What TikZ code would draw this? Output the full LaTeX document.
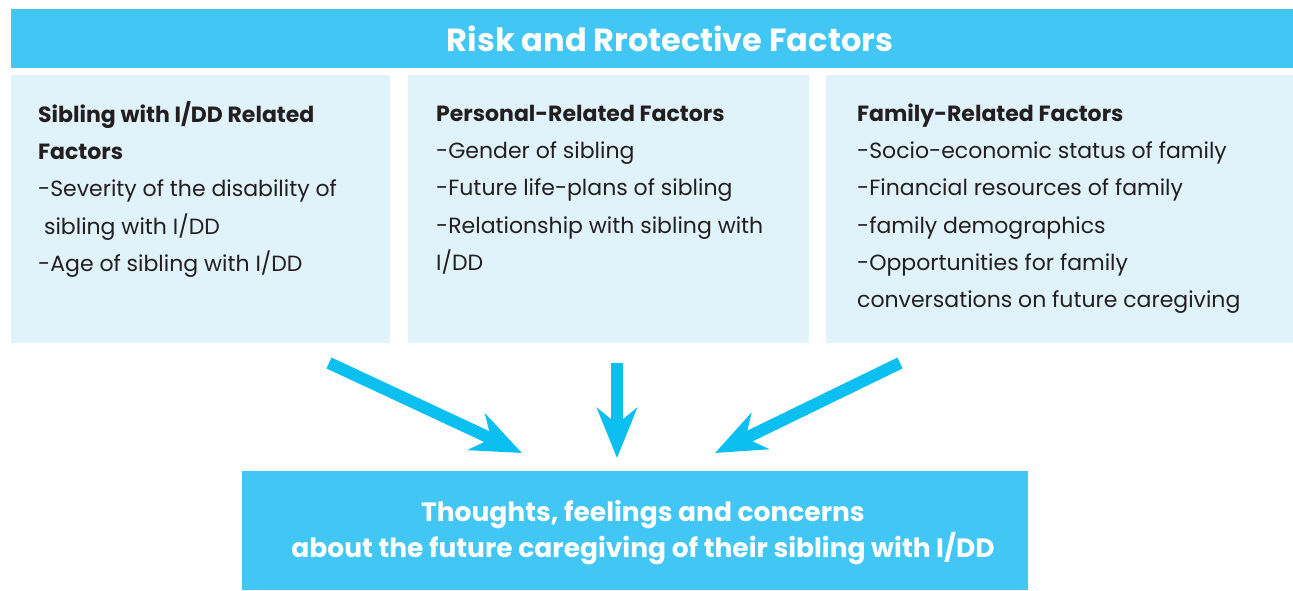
\documentclass[tikz,border=0pt]{standalone}
\usepackage{fontspec}
\setmainfont{Poppins}
\usetikzlibrary{arrows.meta}
\definecolor{banner}{RGB}{66,198,243}
\definecolor{pale}{RGB}{224,242,250}
\definecolor{arrowblue}{RGB}{11,191,240}
\definecolor{ink}{RGB}{35,31,32}
\newcommand{\toprule}{\rule{0pt}{20pt}}
\tikzset{
  box/.style={fill=#1, inner sep=0pt, anchor=north west},
  factors/.style={anchor=north west, inner sep=0pt, align=left, text=ink,
    font=\fontsize{22}{37.3}\selectfont},
  flow/.style={arrowblue, line width=12pt,
    -{Stealth[length=50pt,width=40pt,inset=16pt]}},
}
\begin{document}
\begin{tikzpicture}[x=1pt,y=-1pt]
\useasboundingbox (0,0) rectangle (1293,590);
% banner
\node[box=banner, minimum width=1282pt, minimum height=59pt] (head) at (11,9) {};
\node[text=white, font=\bfseries\fontsize{32}{34}\selectfont] (title) at (670,39) {Risk and Rrotective Factors};
% three groups of factors
\node[box=pale, minimum width=379pt, minimum height=268pt] (sib) at (11,75) {};
\node[box=pale, minimum width=401pt, minimum height=268pt] (pers) at (408,75) {};
\node[box=pale, minimum width=467pt, minimum height=268pt] (fam) at (826,75) {};
\node[factors] (sibtxt) at ([xshift=27pt,yshift=-26pt]sib.north west)
  {\toprule\textbf{Sibling with I/DD Related}\\ \textbf{Factors}\\ -Severity of the disability of\\ \ sibling with I/DD\\ -Age of sibling with I/DD};
\node[factors] (perstxt) at ([xshift=28pt,yshift=-26pt]pers.north west)
  {\toprule\textbf{Personal-Related Factors}\\ -Gender of sibling\\ -Future life-plans of sibling\\ -Relationship with sibling with\\ I/DD};
\node[factors] (famtxt) at ([xshift=31pt,yshift=-26pt]fam.north west)
  {\toprule\textbf{Family-Related Factors}\\ -Socio-economic status of family\\ -Financial resources of family\\ -family demographics\\ -Opportunities for family\\ conversations on future caregiving};
% outcome
\node[box=banner, minimum width=786pt, minimum height=119pt] (out) at (242,471) {};
\node[text=white, align=center, font=\bfseries\fontsize{26.5}{36}\selectfont] (outtxt) at (643,533)
  {Thoughts, feelings and concerns\\ about the future caregiving of their sibling with I/DD};
% arrows
\coordinate (l0) at (329,363); \coordinate (l1) at (522,453);
\coordinate (m0) at (617,363); \coordinate (m1) at (617,458);
\coordinate (r0) at (900,363); \coordinate (r1) at (715,453);
\draw[flow] (l0) -- (l1);
\draw[flow] (m0) -- (m1);
\draw[flow] (r0) -- (r1);
\end{tikzpicture}
\end{document}
